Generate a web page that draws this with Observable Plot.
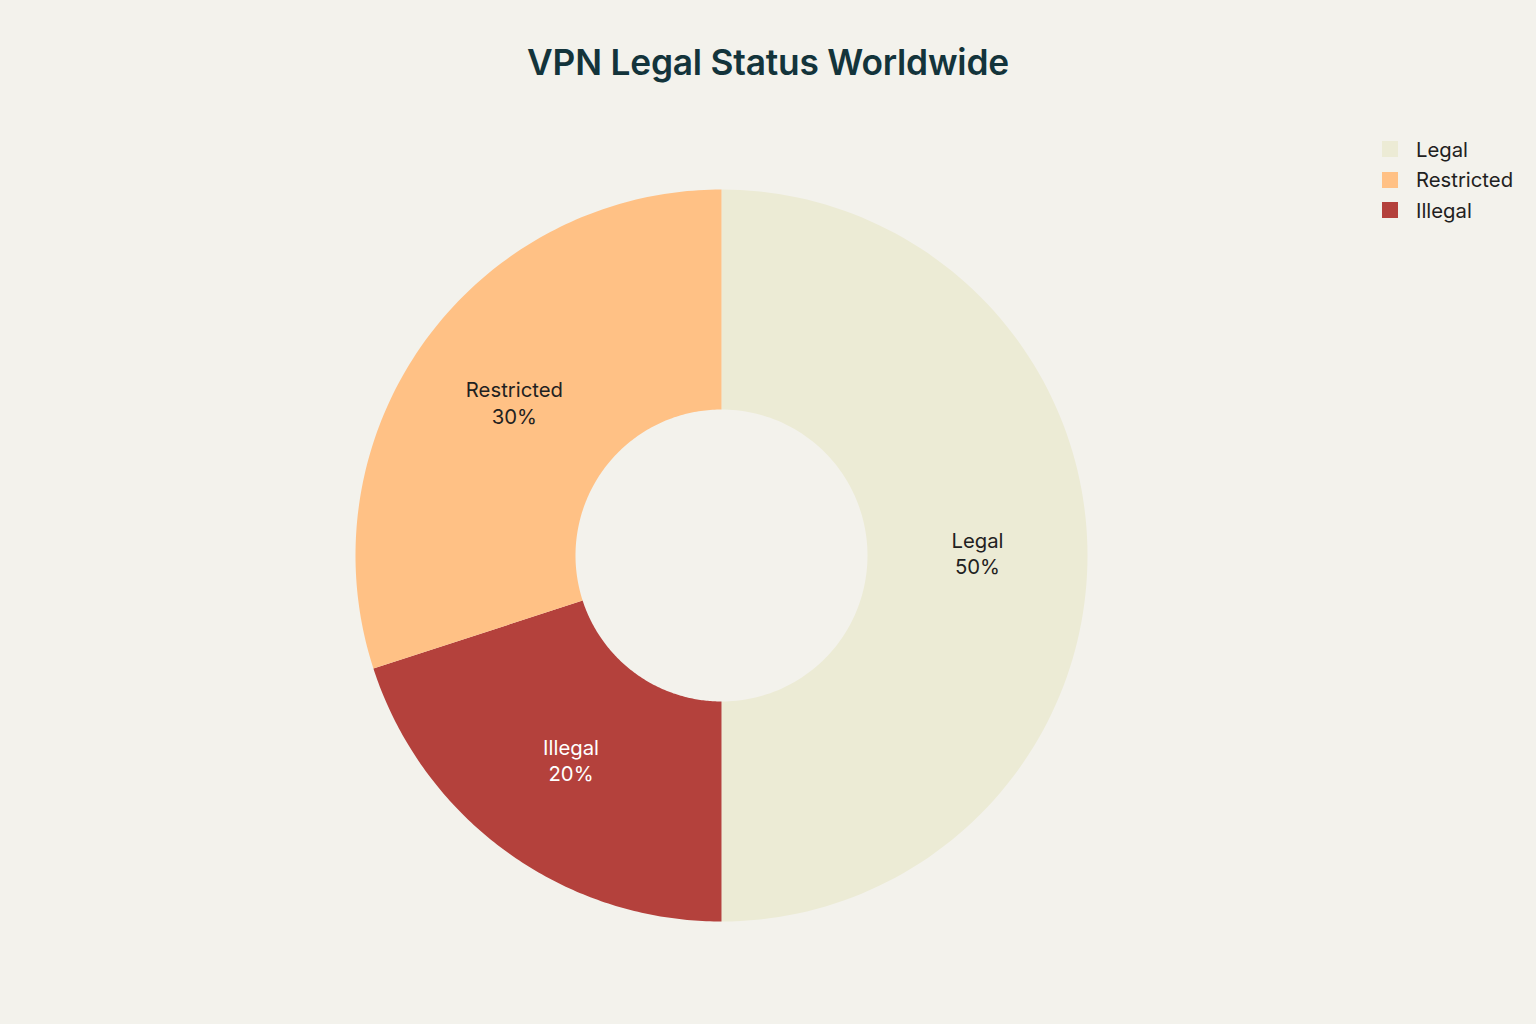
<!DOCTYPE html>
<html><head><meta charset="utf-8">
<script src="https://cdn.jsdelivr.net/npm/d3@7"></script>
<script src="https://cdn.jsdelivr.net/npm/@observablehq/plot@0.6"></script>
<style>
html,body{margin:0;padding:0;background:#F3F2EC;width:1536px;height:1024px;overflow:hidden;font-family:Inter,"Noto Sans",sans-serif;}
#title{position:absolute;top:41px;left:0;width:1536px;text-align:center;font-size:35.3px;font-weight:600;color:#13343B;letter-spacing:-0.2px;}
#chart{position:absolute;left:0;top:0;}
#legend{position:absolute;left:1382px;top:134px;font-size:20.3px;color:#1F2121;}
.li{display:flex;align-items:center;height:30.5px;}
.sw{width:16px;height:16px;margin-right:18px;}
</style></head>
<body>
<div id="chart"></div>
<div id="title">VPN Legal Status Worldwide</div>
<div id="legend"></div>
<script>
const categories = ["Legal", "Illegal", "Restricted"];   // clockwise order from 12 o'clock
const values = [50, 20, 30];
const colors = ["#ECEBD5", "#B4413C", "#FFC185"];
const legendOrder = ["Legal", "Restricted", "Illegal"];
const labelColors = ["#1F2121", "#FFFFFF", "#1F2121"];

const innerFrac = 146 / 366;
const total = d3.sum(values);
const pie = d3.pie().sort(null).value(d => d.value)(categories.map((c, i) => ({category: c, value: values[i]})));

const polys = [];
const labels = [];
pie.forEach(p => {
  const c = p.data.category;
  const steps = 120;
  const pts = [];
  for (let k = 0; k <= steps; k++) {
    const a = p.startAngle + (p.endAngle - p.startAngle) * k / steps;
    pts.push({category: c, x: Math.sin(a), y: Math.cos(a)});
  }
  for (let k = steps; k >= 0; k--) {
    const a = p.startAngle + (p.endAngle - p.startAngle) * k / steps;
    pts.push({category: c, x: innerFrac * Math.sin(a), y: innerFrac * Math.cos(a)});
  }
  polys.push(...pts);
  const am = (p.startAngle + p.endAngle) / 2;
  const rm = (1 + innerFrac) / 2;
  labels.push({category: c, x: rm * Math.sin(am), y: rm * Math.cos(am),
    text: `${c}\n${Math.round(p.data.value / total * 100)}%`,
    color: labelColors[categories.indexOf(c)]});
});

const plot = Plot.plot({
  width: 1536, height: 1024,
  marginLeft: 355, marginRight: 449, marginTop: 189, marginBottom: 103,
  x: {domain: [-1, 1], axis: null},
  y: {domain: [-1, 1], axis: null},
  color: {domain: categories, range: colors},
  style: {background: "transparent", fontFamily: "Inter, 'Noto Sans', sans-serif"},
  marks: [
    Plot.line(polys, {x: "x", y: "y", z: "category", fill: "category", stroke: "none", curve: "linear-closed"}),
    Plot.text(labels, {x: "x", y: "y", text: "text", fill: d => d.color, fontSize: 20.3, lineHeight: 1.3, dy: -3})
  ]
});
document.getElementById("chart").appendChild(plot);

const leg = document.getElementById("legend");
legendOrder.forEach(c => {
  const row = document.createElement("div");
  row.className = "li";
  const sw = document.createElement("div");
  sw.className = "sw";
  sw.style.background = colors[categories.indexOf(c)];
  const t = document.createElement("span");
  t.textContent = c;
  row.appendChild(sw); row.appendChild(t);
  leg.appendChild(row);
});
</script>
</body></html>
